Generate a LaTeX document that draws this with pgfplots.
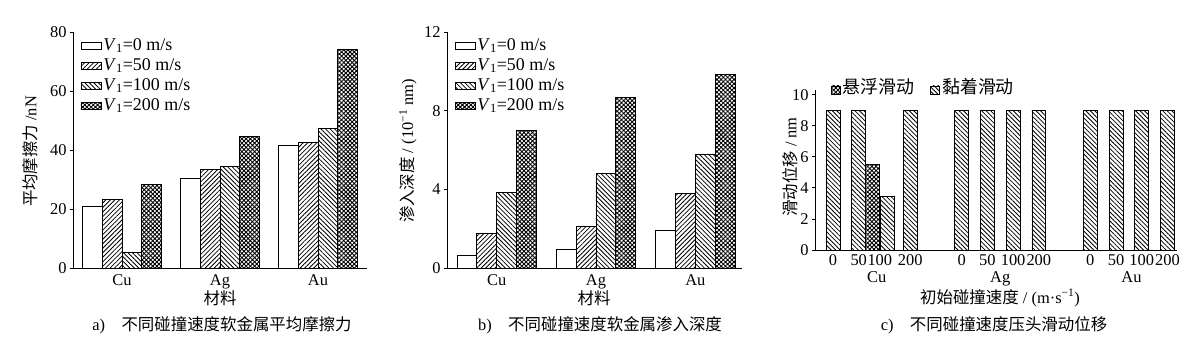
\documentclass[border=0pt]{standalone}
\usepackage{fontspec}
\setmainfont{Liberation Serif}
\newfontfamily\cjk{Noto Sans CJK SC}
\usepackage{pgfplots}
\pgfplotsset{compat=1.18}
\usetikzlibrary{patterns,patterns.meta}

\newcommand{\fs}{\fontsize{16.5}{17}\selectfont}
\newcommand{\fl}{\fontsize{18}{18}\selectfont}
\tikzset{
  pA/.style={fill=white},
  pB/.style={pattern={Lines[angle=45,distance=3.2bp,line width=0.8bp]}},
  pC/.style={pattern={Lines[angle=-45,distance=3.2bp,line width=0.8bp]}},
  pD/.style={pattern={Hatch[angle=45,distance=3.0bp,line width=0.9bp]}},
}
\pgfplotsset{
  myaxis/.style={
    scale only axis,
    axis x line=bottom, axis y line=left,
    axis line style={-, line width=0.8bp},
    ymin=0,
    tick align=outside,
    xtick style={draw=none},
    ytick style={line width=0.8bp, black},
    major tick length=3bp,
    minor tick num=0,
    tick label style={font=\fs},
    /pgf/number format/assume math mode=true,
    ybar,
    clip=false,
    legend image code/.code={\draw[##1,bar shift=0pt,line width=0.8bp] (0bp,-3.5bp) rectangle (20bp,3.5bp);},
    legend style={draw=none, fill=none, font=\fl, row sep=1bp,
      nodes={inner ysep=1.5bp, text height=12bp, text depth=4bp}, legend cell align=left},
  },
  smallleg/.style={
    legend image code/.code={\draw[##1,bar shift=0pt,line width=0.8bp] (0bp,-4bp) rectangle (9bp,4bp);},
  },
  bp/.style={draw=black, line width=0.8bp, bar shift=0pt},
}

\begin{document}
\begin{tikzpicture}
\useasboundingbox (0bp,0bp) rectangle (1200bp,351bp);

% ---------- a ----------
\begin{axis}[myaxis, at={(73bp,83bp)}, anchor=south west,
  width=294bp, height=236bp, ymax=80, ytick={0,20,40,60,80},
  xmin=-0.5, xmax=2.5, bar width=0.2,
  xtick={0,1,2}, xticklabels={Cu,Ag,Au},
  legend style={at={(0.015,0.99)}, anchor=north west}]
\addplot[bp,pA] coordinates {(-0.3,20.8) (0.7,30.5) (1.7,41.4)};
\addplot[bp,pB] coordinates {(-0.1,23.3) (0.9,33.3) (1.9,42.6)};
\addplot[bp,pC] coordinates {(0.1,5.2) (1.1,34.4) (2.1,47.2)};
\addplot[bp,pD] coordinates {(0.3,28.2) (1.3,44.7) (2.3,74.2)};
\legend{\textit{V}\textsubscript{1}=0 m/s,\textit{V}\textsubscript{1}=50 m/s,\textit{V}\textsubscript{1}=100 m/s,\textit{V}\textsubscript{1}=200 m/s}
\end{axis}

% ---------- b ----------
\begin{axis}[myaxis, at={(447bp,83bp)}, anchor=south west,
  width=295bp, height=236bp, ymax=12, ytick={0,4,8,12},
  xmin=-0.5, xmax=2.47, bar width=0.2,
  xtick={0,1,2}, xticklabels={Cu,Ag,Au},
  legend style={at={(0.015,0.99)}, anchor=north west}]
\addplot[bp,pA] coordinates {(-0.3,0.65) (0.7,0.95) (1.7,1.9)};
\addplot[bp,pB] coordinates {(-0.1,1.75) (0.9,2.1) (1.9,3.8)};
\addplot[bp,pC] coordinates {(0.1,3.85) (1.1,4.8) (2.1,5.8)};
\addplot[bp,pD] coordinates {(0.3,7.0) (1.3,8.65) (2.3,9.85)};
\legend{\textit{V}\textsubscript{1}=0 m/s,\textit{V}\textsubscript{1}=50 m/s,\textit{V}\textsubscript{1}=100 m/s,\textit{V}\textsubscript{1}=200 m/s}
\end{axis}

% ---------- c ----------
\begin{axis}[myaxis, smallleg, at={(815bp,101bp)}, anchor=south west,
  width=362bp, height=160bp, ymax=10.3, ytick={0,2,4,6,8,10},
  xmin=-0.7, xmax=13.37, bar width=0.54,
  xtick={0,1,1.82,3,5,6,7,8,10,11,12,13},
  xticklabels={0,50,100,200,0,50,100,200,0,50,100,200},
  xticklabel style={yshift=2bp},
  extra x ticks={1.7,6.5,11.6}, extra x tick labels={Cu,Ag,Au},
  extra x tick style={tick label style={yshift=-17bp}},
  legend columns=2,
  legend style={at={(0.035,1.0)}, anchor=west, font=\fontsize{18}{18}\selectfont\cjk,
    /tikz/every even column/.append style={column sep=14bp}}]
\addplot[bp,pD] coordinates {(1.53,5.5)};
\addplot[bp,pC] coordinates {(0,9) (1,9) (2.1,3.45) (3,9) (5,9) (6,9) (7,9) (8,9) (10,9) (11,9) (12,9) (13,9)};
\legend{悬浮滑动,黏着滑动}
\end{axis}

% ---------- labels ----------
\node[rotate=90,font=\fs] at (30bp,199.5bp) {{\cjk 平均摩擦力} /nN};
\node[rotate=90,font=\fs] at (408bp,200bp) {{\cjk 渗入深度} / (10\textsuperscript{−1} nm)};
\node[rotate=90,font=\fs] at (790bp,184bp) {{\cjk 滑动位移} / nm};

\node[font=\fs\cjk] at (220bp,53bp) {材料};
\node[font=\fs\cjk] at (594bp,53bp) {材料};
\node[font=\fs] at (1000bp,53bp) {{\cjk 初始碰撞速度} / (m·s\textsuperscript{−1})};

\node[font=\fs] at (222bp,26bp) {a)\quad{\cjk 不同碰撞速度软金属平均摩擦力}};
\node[font=\fs] at (600bp,26bp) {b)\quad{\cjk 不同碰撞速度软金属渗入深度}};
\node[font=\fs] at (994bp,26bp) {c)\quad{\cjk 不同碰撞速度压头滑动位移}};
\end{tikzpicture}
\end{document}
